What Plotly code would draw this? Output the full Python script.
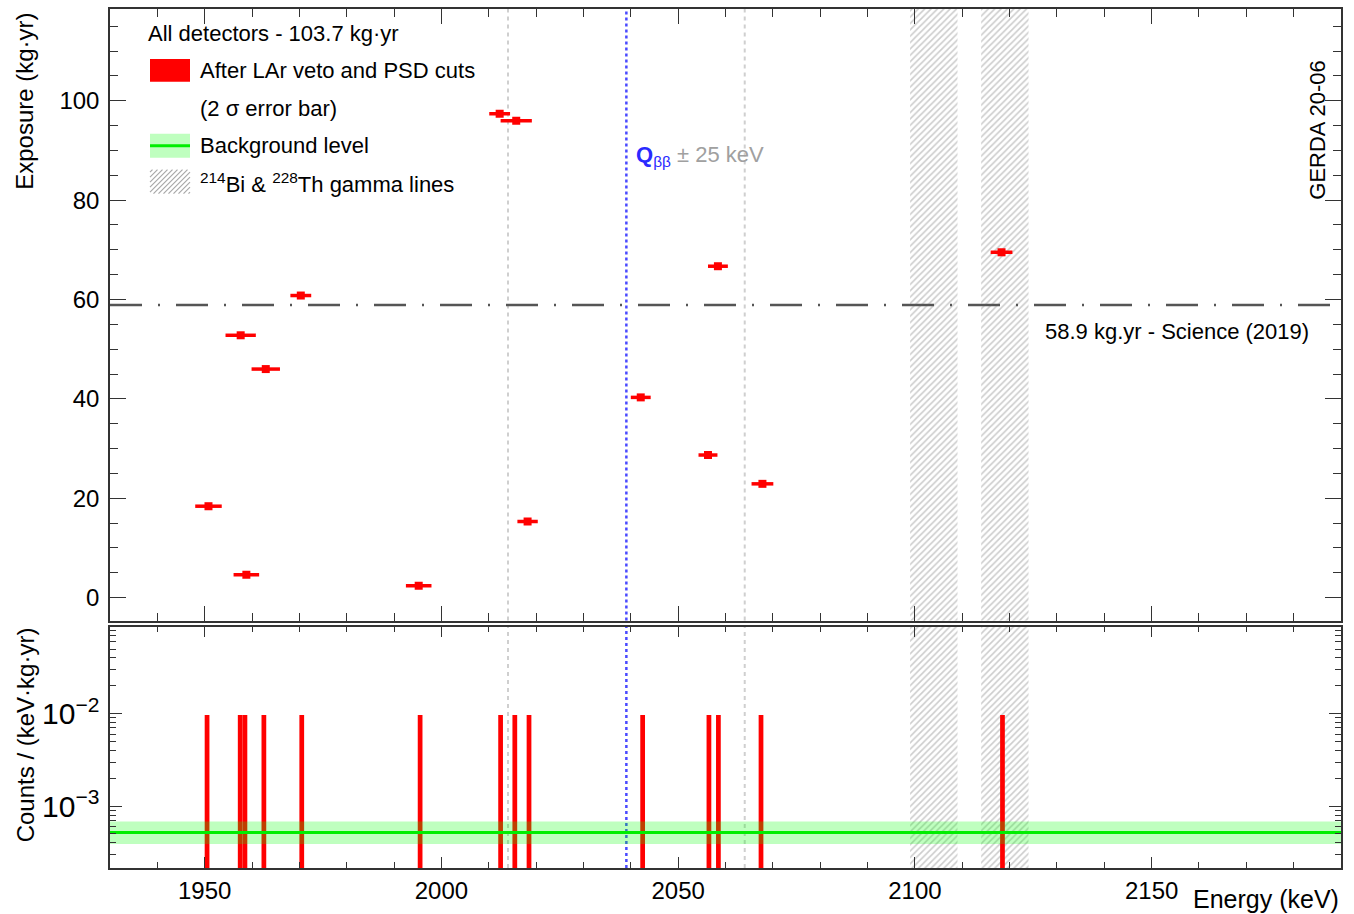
import numpy as np
import plotly.graph_objects as go

# ---------------- data ----------------
energy_keV = [1950.8, 1957.6, 1958.8, 1962.9, 1970.3, 1995.2, 2012.3,
              2015.8, 2018.2, 2042.1, 2056.3, 2058.4, 2067.8, 2118.3]
exposure_kgyr = [18.4, 52.8, 4.6, 46.0, 60.8, 2.4, 97.4,
                 96.0, 15.3, 40.3, 28.7, 66.7, 22.9, 69.5]
err_2sigma_keV = [2.8, 3.2, 2.7, 3.0, 2.2, 2.7, 2.2,
                  3.3, 2.15, 2.1, 2.0, 2.1, 2.3, 2.3]

total_exposure = 103.7          # kg*yr
science2019_exposure = 58.9     # kg*yr
q_bb = 2039.06                  # keV
window_half = 25.0              # keV
gamma_lines = [2104.0, 2119.0]  # keV
gamma_half = 5.0                # keV
bkg_level = 5.2e-4
bkg_hi = 6.8e-4
bkg_lo = 3.9e-4

x_range = [1930, 2190]
bin_width = 1.0

# ---------------- geometry ----------------
W, H = 1354, 914
L, R, T, B = 110, 13, 7, 46
PW, PH = W - L - R, H - T - B


def px(x):
    return (x - L) / PW


def py(y):
    return (H - B - y) / PH


top_dom = [py(620), 1.0]
bot_dom = [0.0, py(626)]

FONT = "Liberation Sans, Arial, Helvetica, sans-serif"
RED = "#ff0000"

# histogram of events (1 keV bins), counts / (keV kg yr)
edges = np.arange(x_range[0], x_range[1] + bin_width, bin_width)
counts, _ = np.histogram(energy_keV, bins=edges)
mask = counts > 0
bin_centers = (edges[:-1] + bin_width / 2)[mask]
rates = counts[mask] / (total_exposure * bin_width)

fig = go.Figure()

# hatched gamma-line regions
hatch = dict(shape="/", fgcolor="#9a9a9a", bgcolor="rgba(0,0,0,0)", size=4.5, solidity=0.35)
fig.add_trace(go.Bar(x=gamma_lines, y=[200] * len(gamma_lines), base=[-50] * len(gamma_lines),
                     width=[2 * gamma_half] * len(gamma_lines),
                     marker=dict(color="rgba(0,0,0,0)", line=dict(width=0), pattern=hatch),
                     xaxis="x", yaxis="y", hoverinfo="skip"))
fig.add_trace(go.Bar(x=gamma_lines, y=[1.0] * len(gamma_lines), base=[1e-6] * len(gamma_lines),
                     width=[2 * gamma_half] * len(gamma_lines),
                     marker=dict(color="rgba(0,0,0,0)", line=dict(width=0), pattern=hatch),
                     xaxis="x2", yaxis="y2", hoverinfo="skip"))

# event histogram (bottom)
fig.add_trace(go.Bar(x=bin_centers, y=rates, base=[1e-6] * len(rates),
                     width=[bin_width] * len(rates),
                     marker=dict(color=RED, line=dict(width=0)),
                     xaxis="x2", yaxis="y2"))

# background band + level
fig.add_trace(go.Scatter(x=[x_range[0], x_range[1], x_range[1], x_range[0]],
                         y=[bkg_lo, bkg_lo, bkg_hi, bkg_hi], fill="toself",
                         fillcolor="rgba(0,255,0,0.25)", line=dict(width=0),
                         mode="lines", xaxis="x2", yaxis="y2", hoverinfo="skip"))
fig.add_trace(go.Scatter(x=x_range, y=[bkg_level, bkg_level], mode="lines",
                         line=dict(color="#00ee00", width=3), xaxis="x2", yaxis="y2"))

# events vs exposure (top)
fig.add_trace(go.Scatter(x=energy_keV, y=exposure_kgyr, mode="markers",
                         marker=dict(symbol="square", size=8, color=RED),
                         error_x=dict(type="data", array=err_2sigma_keV, symmetric=True,
                                      color=RED, thickness=3.5, width=0),
                         xaxis="x", yaxis="y"))

shapes = []
# vertical reference lines in both panels
vlines = [(q_bb, "#4a4aff", "3px,3px", 2.5),
          (q_bb - window_half, "#cfcfcf", "4px,4px", 2),
          (q_bb + window_half, "#cfcfcf", "4px,4px", 2)]
for xv, col, dash, lw in vlines:
    for xr, yr in (("x", "y domain"), ("x2", "y2 domain")):
        shapes.append(dict(type="line", xref=xr, yref=yr, x0=xv, x1=xv, y0=0, y1=1,
                           line=dict(color=col, width=lw, dash=dash), layer="below"))

# Science 2019 exposure line
shapes.append(dict(type="line", xref="x domain", yref="y", x0=0, x1=1,
                   y0=science2019_exposure, y1=science2019_exposure,
                   line=dict(color="#555555", width=2.5, dash="32px,16px,2px,16px"),
                   layer="above"))

# legend swatches
shapes.append(dict(type="rect", xref="paper", yref="paper", x0=px(150), x1=px(190),
                   y0=py(80), y1=py(57), fillcolor=RED, line=dict(width=0)))
shapes.append(dict(type="rect", xref="paper", yref="paper", x0=px(150), x1=px(190),
                   y0=py(156), y1=py(132), fillcolor="rgba(0,255,0,0.25)", line=dict(width=0)))
shapes.append(dict(type="line", xref="paper", yref="paper", x0=px(150), x1=px(190),
                   y0=py(144), y1=py(144), line=dict(color="#00ee00", width=3)))


def hatch_path(x0, y0, x1, y1, spacing):
    parts = []
    c = x0 + y0 + spacing / 2
    while c < x1 + y1:
        xa = max(x0, c - y1)
        xb = min(x1, c - y0)
        if xb > xa:
            parts.append(f"M{px(xa):.5f},{py(c - xa):.5f} L{px(xb):.5f},{py(c - xb):.5f}")
        c += spacing
    return " ".join(parts)


shapes.append(dict(type="path", xref="paper", yref="paper",
                   path=hatch_path(150, 168, 190, 192, 5.0),
                   line=dict(color="#a8a8a8", width=1.2)))

annotations = []


def txt(text, x, y, size=22, xanchor="left", color="black", angle=0):
    annotations.append(dict(text=text, x=x, y=y, xref="paper", yref="paper",
                            xanchor=xanchor, yanchor="middle", showarrow=False,
                            textangle=angle, font=dict(family=FONT, size=size, color=color)))


txt(f"All detectors - {total_exposure} kg·yr", px(146), py(32))
txt("After LAr veto and PSD cuts", px(198), py(69))
txt("(2 σ error bar)", px(198), py(107))
txt("Background level", px(198), py(144))
txt("<sup>214</sup>Bi & <sup>228</sup>Th gamma lines", px(198), py(181))
txt(f"<span style='color:#2a2aff'><b>Q</b><sub>ββ</sub></span> "
    f"<span style='color:#a0a0a0'>± {window_half:.0f} keV</span>", px(634), py(154))
txt(f"{science2019_exposure} kg.yr - Science (2019)", px(1311), py(330), xanchor="right")
txt("GERDA 20-06", px(1318), py(129), xanchor="center", angle=-90)
txt("Exposure (kg·yr)", px(25), py(100), size=24, xanchor="center", angle=-90)
txt("Counts / (keV·kg·yr)", px(25), py(735), size=24, xanchor="center", angle=-90)
txt("Energy (keV)", px(1341), py(899), size=25, xanchor="right")

axis_common = dict(showgrid=False, zeroline=False, showline=True, linecolor="#333333",
                   linewidth=1.5, mirror="ticks", ticks="inside", tickcolor="#333333",
                   tickfont=dict(family=FONT, size=24, color="black"))

fig.update_layout(
    width=W, height=H,
    margin=dict(l=L, r=R, t=T, b=B),
    paper_bgcolor="white", plot_bgcolor="white",
    showlegend=False, barmode="overlay",
    shapes=shapes, annotations=annotations,
    xaxis=dict(domain=[0, 1], anchor="y", range=x_range, tick0=1950, dtick=50,
               ticklen=15, showticklabels=False,
               minor=dict(ticks="inside", dtick=10, ticklen=8, tickcolor="#333333"),
               **axis_common),
    yaxis=dict(domain=top_dom, anchor="x", range=[-4.62, 118.47], tick0=0, dtick=20,
               ticklen=16, ticklabelstandoff=4,
               minor=dict(ticks="inside", dtick=5, ticklen=8, tickcolor="#333333"),
               **axis_common),
    xaxis2=dict(domain=[0, 1], anchor="y2", range=x_range, tick0=1950, dtick=50,
                ticklen=11,
                minor=dict(ticks="inside", dtick=10, ticklen=6, tickcolor="#333333"),
                **axis_common),
    yaxis2=dict(domain=bot_dom, anchor="x2", type="log", range=[-3.669, -1.058],
                dtick=1, exponentformat="power", ticklen=12, ticklabelstandoff=4,
                minor=dict(ticks="inside", dtick="D1", ticklen=6, tickcolor="#333333"),
                **axis_common),
)

fig.write_html("out.html", config={"displayModeBar": False},
               post_script="document.body.style.margin='0';document.body.style.padding='0';")
